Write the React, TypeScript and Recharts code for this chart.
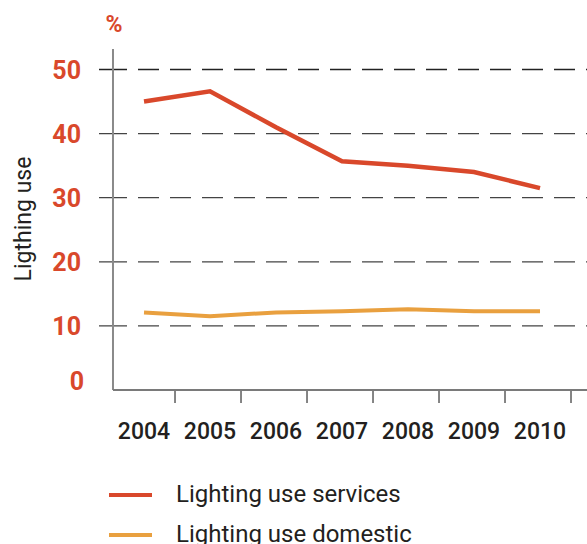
import React from 'react';
import { LineChart, Line, XAxis, YAxis, ReferenceLine, Legend } from 'recharts';

const years = ['2004', '2005', '2006', '2007', '2008', '2009', '2010'];
const servicesValues = [45.0, 46.6, 41.0, 35.7, 35.0, 34.0, 31.5];
const domesticValues = [12.1, 11.5, 12.1, 12.3, 12.6, 12.3, 12.3];
const yTicks = [0, 10, 20, 30, 40, 50];
const gridValues = [10, 20, 30, 40, 50];
const seriesNames = ['Lighting use services', 'Lighting use domestic'];
const yAxisTitle = 'Ligthing use';
const unitLabel = '%';

const RED = '#d9482b';
const ORANGE = '#e9a03f';
const TEXT = '#231f20';
const FONT = 'Roboto, "DejaVu Sans", sans-serif';

const data = years.map((y, i) => ({
  idx: i,
  year: y,
  services: servicesValues[i],
  domestic: domesticValues[i],
}));

const xIdx = years.map((_, i) => i);
const Y_AXIS_X = -0.47;
const X_DOMAIN: [number, number] = [-0.682, 6.712];

const dash = '28,11,' + Array.from({ length: 16 }, () => '21,11').join(',');

const XTick = (props: any) => {
  const { x, y, payload } = props;
  return (
    <g>
      <line x1={x + 31} x2={x + 31} y1={y + 1} y2={y + 13} stroke="#444" strokeWidth={1.3} />
      <text x={x} y={y + 49} textAnchor="middle" fill={TEXT} fontFamily={FONT} fontSize={23} fontWeight={500}>
        {years[payload.value]}
      </text>
    </g>
  );
};

const YTick = (props: any) => {
  const { x, y, payload } = props;
  const isZero = payload.value === 0;
  return (
    <text
      x={x + (isZero ? 3 : 0)}
      y={y + (isZero ? 0 : 9)}
      textAnchor="end"
      fill={RED}
      fontFamily={FONT}
      fontSize={25}
      fontWeight={700}
    >
      {payload.value}
    </text>
  );
};

const LegendContent = () => (
  <div style={{ position: 'relative', width: 587, height: 80, fontFamily: FONT }}>
    {seriesNames.map((name, i) => (
      <div key={name} style={{ position: 'absolute', left: 0, top: i * 40, height: 40, width: 587 }}>
        <div
          style={{
            position: 'absolute',
            left: 109,
            top: 21,
            width: 43,
            height: 4,
            background: i === 0 ? RED : ORANGE,
          }}
        />
        <div
          style={{
            position: 'absolute',
            left: 176,
            top: 6,
            fontSize: 24,
            lineHeight: '32px',
            color: TEXT,
            whiteSpace: 'nowrap',
          }}
        >
          {name}
        </div>
      </div>
    ))}
  </div>
);

export default function App() {
  return (
    <div style={{ position: 'absolute', left: 0, top: 0, width: 587, height: 544, background: '#fff' }}>
      <LineChart width={587} height={544} data={data} margin={{ top: 49, right: 0, bottom: 94, left: 0 }}>
        <XAxis
          type="number"
          dataKey="idx"
          domain={X_DOMAIN}
          allowDataOverflow
          ticks={xIdx}
          axisLine={false}
          tickLine={false}
          tickSize={0}
          tickMargin={0}
          height={60}
          interval={0}
          tick={<XTick />}
        />
        <YAxis
          type="number"
          domain={[0, 53.2]}
          allowDataOverflow
          ticks={yTicks}
          axisLine={false}
          tickLine={false}
          tickSize={0}
          tickMargin={18}
          width={99}
          interval={0}
          tick={<YTick />}
        />
        {gridValues.map((v) => (
          <ReferenceLine key={v} y={v} stroke={v === 50 ? '#222' : '#444'} strokeWidth={1.3} strokeDasharray={dash} />
        ))}
        <ReferenceLine x={Y_AXIS_X} stroke="#8a8a8a" strokeWidth={2} />
        <ReferenceLine
          segment={[
            { x: Y_AXIS_X, y: 0 },
            { x: X_DOMAIN[1], y: 0 },
          ]}
          stroke="#7a7a7a"
          strokeWidth={1.8}
        />
        <Line
          type="linear"
          dataKey="services"
          name={seriesNames[0]}
          stroke={RED}
          strokeWidth={4.5}
          dot={false}
          activeDot={false}
          isAnimationActive={false}
        />
        <Line
          type="linear"
          dataKey="domestic"
          name={seriesNames[1]}
          stroke={ORANGE}
          strokeWidth={4}
          dot={false}
          activeDot={false}
          isAnimationActive={false}
        />
        <Legend
          layout="vertical"
          align="center"
          verticalAlign="middle"
          content={<LegendContent />}
          wrapperStyle={{ position: 'absolute', left: 0, top: 472, width: 587, height: 80, margin: 0, padding: 0 }}
        />
        <text x={114} y={32} textAnchor="middle" fill={RED} fontFamily={FONT} fontSize={23} fontWeight={700}>
          {unitLabel}
        </text>
        <text
          x={31}
          y={219}
          transform="rotate(-90 31 219)"
          textAnchor="middle"
          fill={TEXT}
          fontFamily={FONT}
          fontSize={23}
        >
          {yAxisTitle}
        </text>
      </LineChart>
    </div>
  );
}
